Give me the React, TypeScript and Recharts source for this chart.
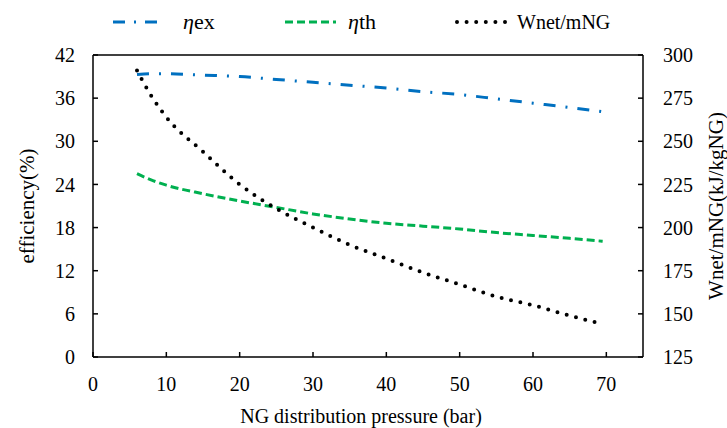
import { LineChart, Line, XAxis, YAxis, Legend, ReferenceLine } from 'recharts'

// NG distribution pressure (bar)
const pressure = [6, 8, 10, 15, 20, 25, 30, 35, 40, 45, 50, 55, 60, 65, 69.5]
// exergy efficiency (%)
const etaEx = [39.3, 39.4, 39.4, 39.2, 39.0, 38.6, 38.2, 37.8, 37.4, 36.9, 36.5, 35.9, 35.3, 34.7, 34.1]
// thermal efficiency (%)
const etaTh = [25.5, 24.6, 23.9, 22.7, 21.7, 20.8, 19.9, 19.2, 18.6, 18.2, 17.8, 17.3, 16.9, 16.5, 16.1]
// Wnet/mNG (kJ/kgNG)
const wnet = [291, 276, 264, 244, 225, 211, 200, 190, 182, 174, 167, 160, 155, 149, 144]

const xTicks = [0, 10, 20, 30, 40, 50, 60, 70]
const leftTicks = [0, 6, 12, 18, 24, 30, 36, 42]
const rightTicks = [125, 150, 175, 200, 225, 250, 275, 300]

const data = pressure.map((p, i) => ({ p, ex: etaEx[i], th: etaTh[i], w: wnet[i] }))

const FONT = '"Liberation Serif", "Times New Roman", serif'
const BLUE = '#0070C0'
const GREEN = '#00B050'

const axisStyle = { stroke: '#000', strokeWidth: 1.5 }
const tickStyle = { fill: '#000', fontSize: 20, fontFamily: FONT }

function ChartLegend() {
  return (
    <svg width={727} height={44} style={{ display: 'block' }}>
      <line x1={113} x2={159} y1={22} y2={22} stroke={BLUE} strokeWidth={3} strokeDasharray="12 9 2 9" />
      <text x={183} y={29} fontFamily={FONT} fontSize={22} fill="#000">
        <tspan fontStyle="italic">η</tspan>ex
      </text>
      <line x1={285} x2={336} y1={22} y2={22} stroke={GREEN} strokeWidth={3} strokeDasharray="8 4" />
      <text x={348} y={29} fontFamily={FONT} fontSize={22} fill="#000">
        <tspan fontStyle="italic">η</tspan>th
      </text>
      <line x1={457} x2={506} y1={22} y2={22} stroke="#000" strokeWidth={4} strokeLinecap="round" strokeDasharray="0 9.6" />
      <text x={517} y={29} fontFamily={FONT} fontSize={20} fill="#000">
        Wnet/mNG
      </text>
    </svg>
  )
}

export default function App() {
  return (
    <div style={{ position: 'absolute', left: 0, top: 0, width: 727, height: 428, overflow: 'hidden', background: '#fff' }}>
      <LineChart width={727} height={428} data={data} margin={{ top: 55, right: 0, bottom: 0, left: 0 }} style={{ display: 'block' }}>
        <XAxis
          dataKey="p"
          type="number"
          domain={[0, 75]}
          ticks={xTicks}
          height={71}
          axisLine={axisStyle}
          tickLine={axisStyle}
          tickSize={-5}
          tickMargin={25}
          tick={tickStyle}
          label={{ value: 'NG distribution pressure (bar)', position: 'center', dx: -7, dy: 23, fill: '#000', fontSize: 20, fontFamily: FONT }}
        />
        <YAxis
          yAxisId="left"
          domain={[0, 42]}
          ticks={leftTicks}
          width={93}
          axisLine={axisStyle}
          tickLine={axisStyle}
          tickSize={-5}
          tickMargin={23}
          tick={tickStyle}
          label={{ value: 'efficiency(%)', angle: -90, position: 'center', dx: -20, fill: '#000', fontSize: 21, fontFamily: FONT }}
        />
        <YAxis
          yAxisId="right"
          orientation="right"
          domain={[125, 300]}
          ticks={rightTicks}
          width={84}
          axisLine={axisStyle}
          tickLine={axisStyle}
          tickSize={-5}
          tickMargin={25}
          tick={tickStyle}
          label={{ value: 'Wnet/mNG(kJ/kgNG)', angle: -90, position: 'center', dx: 31, fill: '#000', fontSize: 21, fontFamily: FONT }}
        />
        <ReferenceLine yAxisId="left" y={42} stroke="#000" strokeWidth={1.5} />
        <Legend
          layout="vertical"
          align="center"
          verticalAlign="middle"
          wrapperStyle={{ top: 0, left: 0, width: 727, height: 44 }}
          content={() => <ChartLegend />}
        />
        <Line
          yAxisId="left"
          type="monotone"
          dataKey="ex"
          stroke={BLUE}
          strokeWidth={3}
          strokeDasharray="12 10 2 10"
          dot={false}
          activeDot={false}
          isAnimationActive={false}
        />
        <Line
          yAxisId="left"
          type="monotone"
          dataKey="th"
          stroke={GREEN}
          strokeWidth={3}
          strokeDasharray="8 4"
          dot={false}
          activeDot={false}
          isAnimationActive={false}
        />
        <Line
          yAxisId="right"
          type="monotone"
          dataKey="w"
          stroke="#000"
          strokeWidth={4}
          strokeLinecap="round"
          strokeDasharray="0 9.6"
          dot={false}
          activeDot={false}
          isAnimationActive={false}
        />
      </LineChart>
    </div>
  )
}
